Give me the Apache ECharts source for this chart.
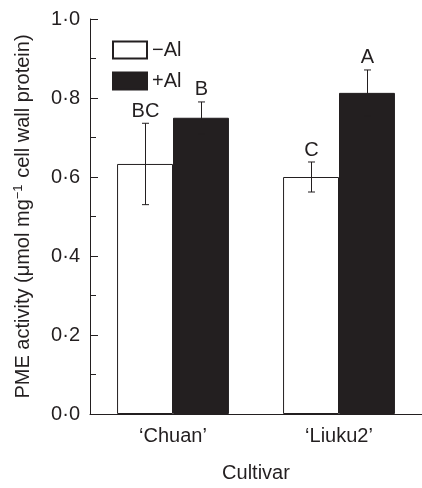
<!DOCTYPE html>
<html>
<head>
<meta charset="utf-8">
<script src="https://cdn.jsdelivr.net/npm/echarts@6/dist/echarts.min.js"></script>
<style>
    html, body { margin: 0; padding: 0; background: #fff; }
    #main { width: 422px; height: 488px; }
</style>
</head>
<body>
<div id="main"></div>
<script>
/************************    数据     ****************************/
var cultivars = ['\u2018Chuan\u2019', '\u2018Liuku2\u2019'];
var seriesNames = ['\u2212Al', '+Al'];
var minusAl = [0.633, 0.600];
var plusAl = [0.750, 0.813];
var minusAlErr = [0.103, 0.038];
var plusAlErr = [0.040, 0.058];
var minusAlLetters = ['BC', 'C'];
var plusAlLetters = ['B', 'A'];

var FONT = 'Liberation Sans, Arial, Helvetica, sans-serif';
var FS = 20;
var BAR_FRAC = 0.337;

/************************    误差线数据     ****************************/
var errData = [];
cultivars.forEach(function (c, i) {
    errData.push([i, minusAl[i], minusAlErr[i], -1, minusAlLetters[i]]);
    errData.push([i, plusAl[i], plusAlErr[i], 1, plusAlLetters[i]]);
});

function renderErr(params, api) {
    var idx = api.value(0);
    var mean = api.value(1);
    var err = api.value(2);
    var side = api.value(3);
    var band = api.size([1, 0])[0];
    var off = side * band * BAR_FRAC / 2;
    var top = api.coord([idx, mean + err]);
    var bot = api.coord([idx, mean - err]);
    var x = Math.round(top[0] + off) + 0.5;
    var cap = 3.5;
    var style = { stroke: '#231f20', lineWidth: 1 };
    return {
        type: 'group',
        children: [
            { type: 'line', shape: { x1: x, y1: top[1], x2: x, y2: bot[1] }, style: style },
            { type: 'line', shape: { x1: x - cap, y1: top[1], x2: x + cap, y2: top[1] }, style: style },
            { type: 'line', shape: { x1: x - cap, y1: bot[1], x2: x + cap, y2: bot[1] }, style: style },
            {
                type: 'text',
                style: {
                    x: x, y: top[1] - 2,
                    text: errData[params.dataIndex][4],
                    fill: '#231f20',
                    font: FS + 'px ' + FONT,
                    align: 'center',
                    verticalAlign: 'bottom'
                }
            }
        ]
    };
}

/************************    图表配置     ****************************/
var chart = echarts.init(document.getElementById('main'));
var option = {
    backgroundColor: '#fff',
    animation: false,
    textStyle: { fontFamily: FONT },
    grid: { left: 90, right: -3, top: 19, bottom: 68 },
    legend: {
        left: 107,
        top: 35,
        orient: 'vertical',
        itemWidth: 34,
        itemHeight: 17,
        itemGap: 11,
        icon: 'rect',
        data: seriesNames,
        textStyle: { fontSize: FS, color: '#231f20', fontFamily: FONT }
    },
    xAxis: {
        type: 'category',
        data: cultivars,
        name: 'Cultivar',
        nameLocation: 'middle',
        nameGap: 49,
        nameTextStyle: { fontSize: FS, color: '#231f20', fontFamily: FONT },
        axisLine: { lineStyle: { color: '#231f20', width: 1 } },
        axisTick: { show: false },
        axisLabel: { fontSize: FS, color: '#231f20', margin: 12, fontFamily: FONT }
    },
    yAxis: {
        type: 'value',
        min: 0,
        max: 1,
        interval: 0.2,
        name: '{n|PME activity (\u03bcmol mg}{s|\u22121}{n| cell wall protein)}',
        nameLocation: 'middle',
        nameGap: 56,
        nameTextStyle: {
            fontFamily: FONT,
            rich: {
                n: { fontSize: FS, color: '#231f20', fontFamily: FONT },
                s: { fontSize: 13, color: '#231f20', fontFamily: FONT, verticalAlign: 'top', padding: [0, 1, 9, 0] }
            }
        },
        axisLine: { show: true, lineStyle: { color: '#231f20', width: 1 } },
        axisTick: { show: true, inside: true, length: 8, lineStyle: { color: '#231f20' } },
        minorTick: { show: true, splitNumber: 2, length: 6, lineStyle: { color: '#231f20' } },
        splitLine: { show: false },
        axisLabel: {
            fontSize: FS,
            color: '#231f20',
            margin: 10,
            fontFamily: FONT,
            formatter: function (v) { return v.toFixed(1).replace('.', '\u00b7'); }
        }
    },
    series: [
        {
            name: seriesNames[0],
            type: 'bar',
            data: minusAl,
            barWidth: (BAR_FRAC * 100) + '%',
            barGap: '0%',
            itemStyle: { color: '#fff', borderColor: '#231f20', borderWidth: 1 }
        },
        {
            name: seriesNames[1],
            type: 'bar',
            data: plusAl,
            barWidth: (BAR_FRAC * 100) + '%',
            barGap: '0%',
            itemStyle: { color: '#231f20', borderColor: '#231f20', borderWidth: 1 }
        },
        {
            type: 'custom',
            renderItem: renderErr,
            data: errData,
            z: 10,
            silent: true
        }
    ]
};
chart.setOption(option);
</script>
</body>
</html>
